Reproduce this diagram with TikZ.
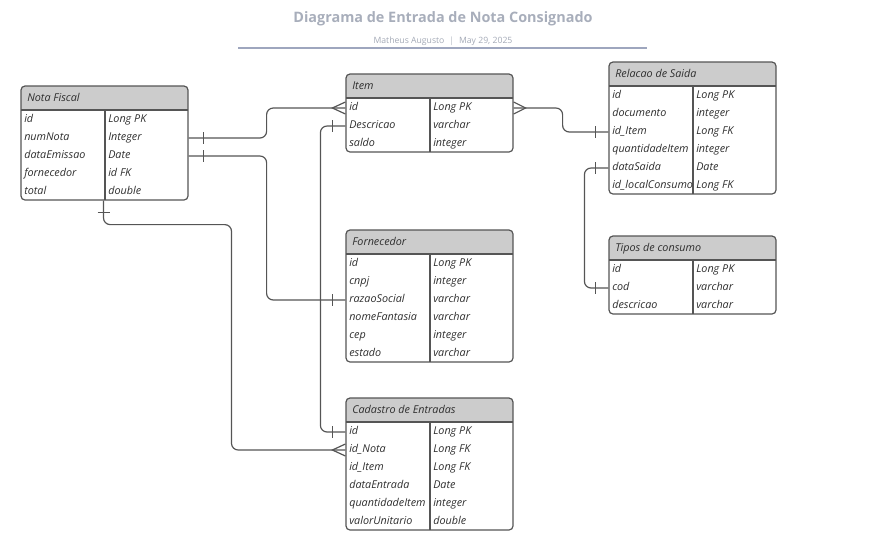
\documentclass[tikz,border=0pt]{standalone}
\usepackage{fontspec}
\setmainfont{Open Sans}
\usetikzlibrary{calc,fit}
\definecolor{lineC}{HTML}{555555}
\definecolor{hdrC}{HTML}{CCCCCC}
\definecolor{titleC}{HTML}{A8AEBB}
\definecolor{subC}{HTML}{A3A9B6}
\definecolor{ruleC}{HTML}{9EA6BE}
\definecolor{txtC}{HTML}{2E2E2E}
\tikzset{
  fld/.style={font=\fontsize{8.1}{9}\selectfont\itshape, text=txtC, inner sep=0pt, anchor=west, text height=5.6pt, text depth=2pt},
  hdrtxt/.style={font=\fontsize{8.1}{9}\selectfont\itshape, text=txtC, inner sep=0pt, anchor=west, text height=5.6pt, text depth=2pt},
  conn/.style={draw=lineC, line width=0.9pt, rounded corners=5},
  onebar/.style={draw=lineC, line width=0.9pt},
  crowfoot/.style={draw=lineC, line width=0.9pt},
  tblline/.style={draw=lineC, line width=0.9pt},
  tblbox/.style={draw=lineC, line width=0.9pt, rounded corners=3, inner sep=0pt},
}
% #1 name, #2 x, #3 y, #4 rows, #5 title, #6 fields
\newcommand\ertable[6]{%
  \coordinate (#1-tl) at (#2,#3);
  \coordinate (#1-br) at ($(#2,#3)+(167,24+18*#4)$);
  \begin{scope}
    \clip[rounded corners=3] (#1-tl) rectangle (#1-br);
    \fill[hdrC] (#1-tl) rectangle ($(#1-tl)+(167,24)$);
  \end{scope}
  \node[tblbox, fit=(#1-tl)(#1-br)] (#1) {};
  \draw[tblline] ($(#1-tl)+(0,24)$) -- ($(#1-tl)+(167,24)$);
  \draw[tblline] ($(#1-tl)+(84,24)$) -- ($(#1-tl)+(84,24+18*#4)$);
  \node[hdrtxt] (#1-h) at ($(#1-tl)+(6,13)$) {#5};
  \foreach \f/\t [count=\i] in {#6} {
    \node[fld] (#1-\i) at ($(#1-tl)+(3,16+18*\i)$) {\f};
    \node[fld] (#1-t\i) at ($(#1-tl)+(87,16+18*\i)$) {\t};
  }%
}
\begin{document}
\begin{tikzpicture}[x=0.75pt,y=-0.75pt]
\useasboundingbox (0,0) rectangle (889,547);

\node[font=\fontsize{10.8}{12}\selectfont\bfseries, text=titleC] (title) at (443,19) {Diagrama de Entrada de Nota Consignado};
\node[font=\fontsize{6.5}{8}\selectfont, text=subC] (sub) at (443,41) {Matheus Augusto \hspace{2pt}{\color{subC!80}|}\hspace{2pt} May 29, 2025};
\draw[ruleC, line width=0.8pt] (238,48) -- (647,48);

\ertable{nf}{21}{86}{5}{Nota Fiscal}{id/Long PK, numNota/Integer, dataEmissao/Date, fornecedor/id FK, total/double}
\ertable{item}{346}{74}{3}{Item}{id/Long PK, Descricao/varchar, saldo/integer}
\ertable{rel}{609}{62}{6}{Relacao de Saida}{id/Long PK, documento/integer, id\_Item/Long FK, quantidadeItem/integer, dataSaida/Date, id\_localConsumo/Long FK}
\ertable{tip}{609}{236}{3}{Tipos de consumo}{id/Long PK, cod/varchar, descricao/varchar}
\ertable{forn}{346}{230}{6}{Fornecedor}{id/Long PK, cnpj/integer, razaoSocial/varchar, nomeFantasia/varchar, cep/integer, estado/varchar}
\ertable{cad}{346}{398}{6}{Cadastro de Entradas}{id/Long PK, id\_Nota/Long FK, id\_Item/Long FK, dataEntrada/Date, quantidadeItem/integer, valorUnitario/double}

% 1: Nota Fiscal numNota -> Item id
\draw[conn] (nf.east|-nf-2) -- ++(78,0) |- (item.west|-item-1);
\draw[onebar] ($(nf.east|-nf-2)+(15,-6)$) -- ++(0,12);
\draw[crowfoot] ($(item.west|-item-1)+(0,-6)$) -- ++(-13,6) -- ++(13,6);

% 2: Nota Fiscal dataEmissao -> Fornecedor razaoSocial
\draw[conn] (nf.east|-nf-3) -- ++(78,0) |- (forn.west|-forn-3);
\draw[onebar] ($(nf.east|-nf-3)+(15,-6)$) -- ++(0,12);
\draw[onebar] ($(forn.west|-forn-3)+(-13,-6)$) -- ++(0,12);

% 3: Nota Fiscal bottom -> Cadastro id_Nota
\draw[conn] ($(nf.south)+(-1,0)$) -- ++(0,24) -- ++(128,0) |- (cad.west|-cad-2);
\draw[onebar] ($(nf.south)+(-7,12)$) -- ++(12,0);
\draw[crowfoot] ($(cad.west|-cad-2)+(0,-6)$) -- ++(-13,6) -- ++(13,6);

% 4: Item Descricao -> Cadastro id
\draw[conn] (item.west|-item-2) -- ++(-25,0) |- (cad.west|-cad-1);
\draw[onebar] ($(item.west|-item-2)+(-13,-6)$) -- ++(0,12);
\draw[onebar] ($(cad.west|-cad-1)+(-13,-6)$) -- ++(0,12);

% 5: Item id -> Relacao id_Item
\draw[conn] (item.east|-item-1) -- ++(49,0) |- (rel.west|-rel-3);
\draw[crowfoot] ($(item.east|-item-1)+(0,-6)$) -- ++(12,6) -- ++(-12,6);
\draw[onebar] ($(rel.west|-rel-3)+(-13,-6)$) -- ++(0,12);

% 6: Relacao dataSaida -> Tipos cod
\draw[conn] (rel.west|-rel-5) -- ++(-24,0) |- (tip.west|-tip-2);
\draw[onebar] ($(rel.west|-rel-5)+(-13,-6)$) -- ++(0,12);
\draw[onebar] ($(tip.west|-tip-2)+(-13,-6)$) -- ++(0,12);
\end{tikzpicture}
\end{document}
